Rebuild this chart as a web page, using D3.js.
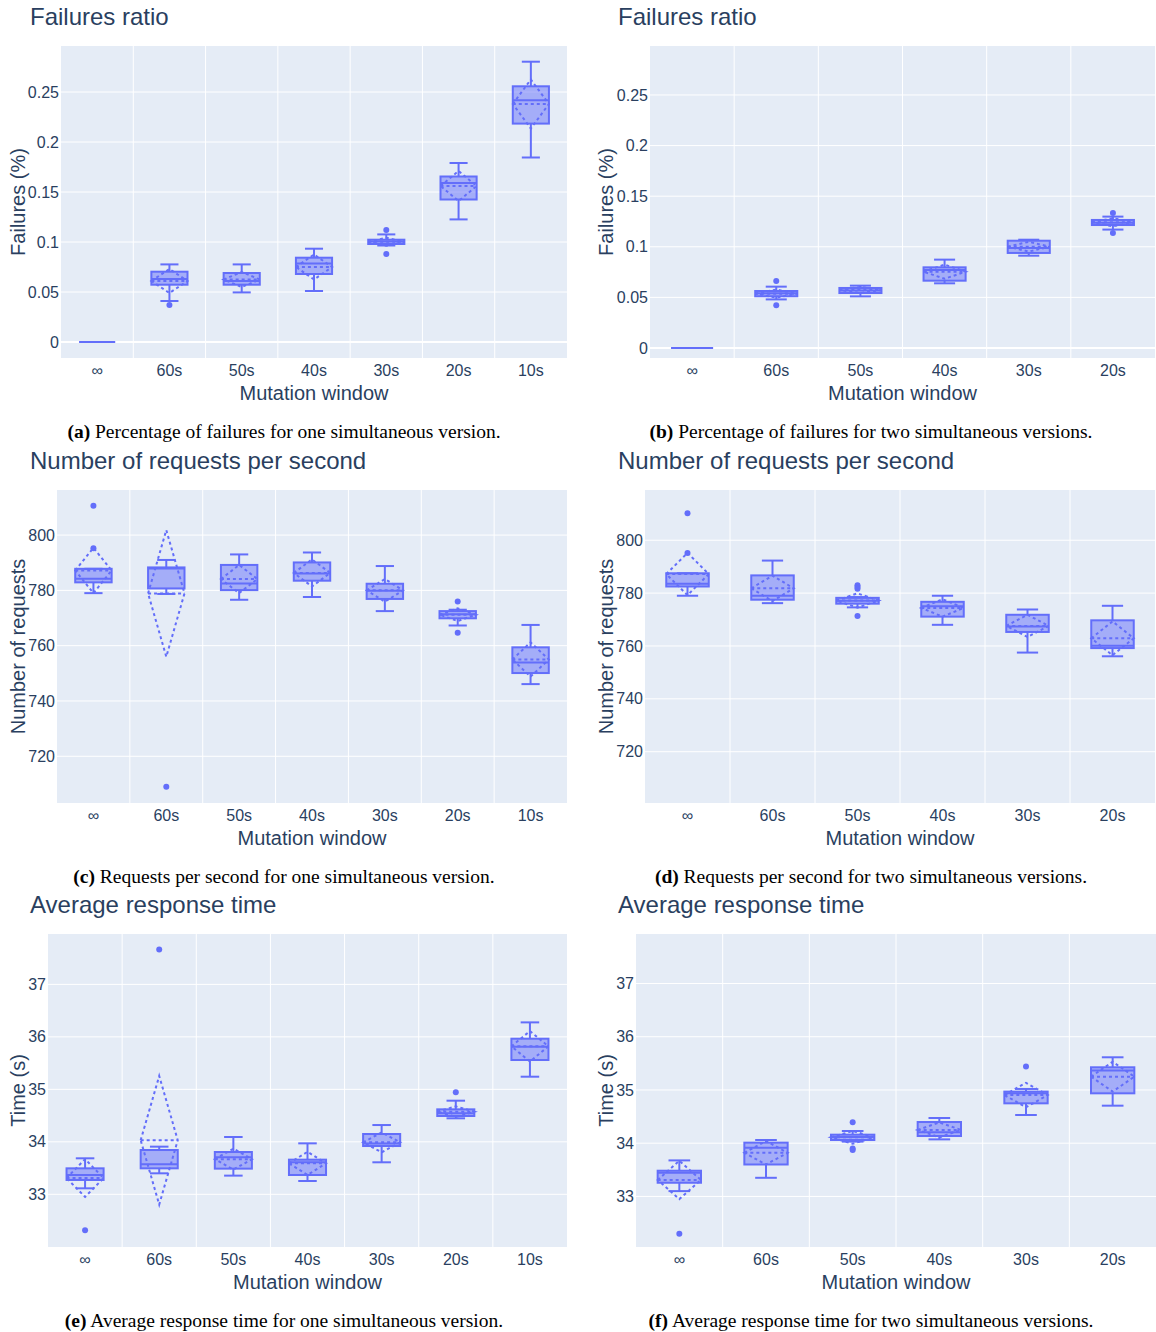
<!DOCTYPE html>
<html>
<head>
<meta charset="utf-8">
<script src="https://cdn.jsdelivr.net/npm/d3@7"></script>
<style>
body { margin: 0; background: #fff; }
</style>
</head>
<body>
<svg id="fig" width="1156" height="1332"></svg>
<script>
// Categories (mutation window)
var windowsOne = ["\u221e", "60s", "50s", "40s", "30s", "20s", "10s"];
var windowsTwo = ["\u221e", "60s", "50s", "40s", "30s", "20s"];

// Each row: [lower fence, q1, median, q3, upper fence, mean, sd]
var failuresOne = [
    [0, 0, 0, 0, 0, 0, 0],
    [0.041, 0.0573, 0.063, 0.0703, 0.0776, 0.061, 0.012],
    [0.0496, 0.0573, 0.061, 0.069, 0.0776, 0.0625, 0.0075],
    [0.051, 0.068, 0.0786, 0.0843, 0.0933, 0.075, 0.0125],
    [0.0965, 0.098, 0.1005, 0.1023, 0.1076, 0.1002, 0.004],
    [0.1226, 0.1425, 0.159, 0.1655, 0.179, 0.156, 0.015],
    [0.1845, 0.2184, 0.2418, 0.2557, 0.2803, 0.238, 0.0245]
];
var failuresOneOutliers = [[], [0.037], [], [], [0.112, 0.088], [], []];

var failuresTwo = [
    [0, 0, 0, 0, 0, 0, 0],
    [0.048, 0.0511, 0.054, 0.0563, 0.0606, 0.0537, 0.004],
    [0.051, 0.0543, 0.0567, 0.0593, 0.0616, 0.0573, 0.003],
    [0.0639, 0.0665, 0.077, 0.0797, 0.0873, 0.0754, 0.007],
    [0.0912, 0.0939, 0.0988, 0.106, 0.107, 0.1001, 0.0048],
    [0.117, 0.1215, 0.1238, 0.1265, 0.1298, 0.1242, 0.004]
];
var failuresTwoOutliers = [[], [0.0662, 0.0422], [], [], [], [0.1334, 0.1136]];

var requestsOne = [
    [779, 782.9, 784.2, 787.8, 787.8, 787.2, 8.2],
    [778.7, 780.7, 787.9, 788.3, 791, 778.9, 22.9],
    [776.6, 780.1, 782.5, 789.2, 793, 784.1, 5.1],
    [777.6, 783.5, 786.1, 790.1, 793.7, 786.3, 4.9],
    [772.5, 776.9, 779.9, 782.4, 788.8, 780.0, 4.1],
    [767.3, 769.9, 771.4, 772.5, 773.0, 771.2, 2.3],
    [746.1, 750.1, 753.9, 759.4, 767.5, 755.0, 6.2]
];
var requestsOneOutliers = [[810.6, 795.2], [709], [], [], [], [776, 764.7], []];

var requestsTwo = [
    [779, 782.5, 783.5, 787.5, 787.5, 787.2, 8],
    [776.2, 777.5, 779, 786.7, 792.3, 781.8, 4.8],
    [774.6, 776, 777.1, 778.2, 778.5, 777.2, 2.7],
    [768, 771.1, 775, 776.7, 779, 774.4, 3.3],
    [757.5, 765.3, 767.4, 771.8, 773.8, 767.6, 4.2],
    [756.1, 759.2, 760.1, 769.7, 775.2, 762.9, 6.4]
];
var requestsTwoOutliers = [[810.2, 795.2], [], [783, 782.3, 781.6, 771.3], [], [], []];

var timeOne = [
    [33.114, 33.273, 33.368, 33.495, 33.686, 33.31, 0.36],
    [33.4, 33.495, 33.571, 33.844, 33.908, 34.03, 1.225],
    [33.356, 33.489, 33.705, 33.806, 34.092, 33.67, 0.2],
    [33.254, 33.368, 33.61, 33.66, 33.971, 33.59, 0.22],
    [33.61, 33.92, 33.97, 34.149, 34.32, 33.99, 0.19],
    [34.448, 34.492, 34.543, 34.619, 34.784, 34.575, 0.1],
    [35.241, 35.559, 35.813, 35.965, 36.276, 35.82, 0.29]
];
var timeOneOutliers = [[32.314], [37.667], [], [], [], [34.943], []];

var timeTwo = [
    [33.1, 33.257, 33.445, 33.483, 33.677, 33.31, 0.36],
    [33.35, 33.6, 33.915, 34.01, 34.06, 33.82, 0.22],
    [34.03, 34.06, 34.116, 34.16, 34.229, 34.11, 0.12],
    [34.072, 34.135, 34.204, 34.398, 34.473, 34.25, 0.14],
    [34.53, 34.749, 34.937, 34.969, 35.019, 34.905, 0.23],
    [34.705, 34.937, 35.364, 35.426, 35.614, 35.25, 0.28]
];
var timeTwoOutliers = [[32.3], [], [34.392, 33.9, 33.87], [], [35.439], []];

// Tick labels
var failureTicks = [0, 0.05, 0.1, 0.15, 0.2, 0.25];
var failureTickLabels = ["0", "0.05", "0.1", "0.15", "0.2", "0.25"];
var requestTicks = [720, 740, 760, 780, 800];
var timeTicks = [33, 34, 35, 36, 37];

var BLUE = "#636efa";
var FILL = "rgba(99,110,250,0.5)";
var INK = "#2a3f5f";
var SANS = "'Liberation Sans', Arial, sans-serif";
var SERIF = "'Liberation Serif', 'Times New Roman', serif";

var panels = [
    { tag: "(a)", caption: " Percentage of failures for one simultaneous version.",
      title: "Failures ratio", ytitle: "Failures (%)", cats: windowsOne, stats: failuresOne, outliers: failuresOneOutliers,
      domain: [-0.016, 0.296], ticks: failureTicks, labels: failureTickLabels,
      x0: 61, x1: 567, y0: 46, y1: 358, col: 0 },
    { tag: "(b)", caption: " Percentage of failures for two simultaneous versions.",
      title: "Failures ratio", ytitle: "Failures (%)", cats: windowsTwo, stats: failuresTwo, outliers: failuresTwoOutliers,
      domain: [-0.0099, 0.2984], ticks: failureTicks, labels: failureTickLabels,
      x0: 650, x1: 1155, y0: 46, y1: 358, col: 1 },
    { tag: "(c)", caption: " Requests per second for one simultaneous version.",
      title: "Number of requests per second", ytitle: "Number of requests", cats: windowsOne, stats: requestsOne, outliers: requestsOneOutliers,
      domain: [703.1, 816.3], ticks: requestTicks, labels: requestTicks.map(String),
      x0: 57, x1: 567, y0: 490, y1: 803, col: 0 },
    { tag: "(d)", caption: " Requests per second for two simultaneous versions.",
      title: "Number of requests per second", ytitle: "Number of requests", cats: windowsTwo, stats: requestsTwo, outliers: requestsTwoOutliers,
      domain: [700.6, 819.0], ticks: requestTicks, labels: requestTicks.map(String),
      x0: 645, x1: 1155, y0: 490, y1: 803, col: 1 },
    { tag: "(e)", caption: " Average response time for one simultaneous version.",
      title: "Average response time", ytitle: "Time (s)", cats: windowsOne, stats: timeOne, outliers: timeOneOutliers,
      domain: [31.996, 37.96], ticks: timeTicks, labels: timeTicks.map(String),
      x0: 48, x1: 567, y0: 934, y1: 1247, col: 0 },
    { tag: "(f)", caption: " Average response time for two simultaneous versions.",
      title: "Average response time", ytitle: "Time (s)", cats: windowsTwo, stats: timeTwo, outliers: timeTwoOutliers,
      domain: [32.05, 37.93], ticks: timeTicks, labels: timeTicks.map(String),
      x0: 636, x1: 1156, y0: 934, y1: 1247, col: 1 }
];

var svg = d3.select("#fig");

panels.forEach(function (p) {
    var g = svg.append("g");
    var x = d3.scaleBand().domain(p.cats).range([p.x0, p.x1]).padding(0);
    var y = d3.scaleLinear().domain(p.domain).range([p.y1, p.y0]);
    var bw = x.bandwidth() * 0.5;

    // plot background
    g.append("rect")
        .attr("x", p.x0).attr("y", p.y0)
        .attr("width", p.x1 - p.x0).attr("height", p.y1 - p.y0)
        .attr("fill", "#e5ecf6");

    // horizontal grid
    g.selectAll("line.hgrid")
        .data(p.ticks)
        .enter().append("line")
        .attr("x1", p.x0).attr("x2", p.x1)
        .attr("y1", function (d) { return y(d); })
        .attr("y2", function (d) { return y(d); })
        .attr("stroke", "#fff")
        .attr("stroke-width", function (d) { return d === 0 ? 2 : 1; });

    // vertical grid on category boundaries
    g.selectAll("line.vgrid")
        .data(p.cats.slice(1))
        .enter().append("line")
        .attr("x1", function (d) { return x(d); })
        .attr("x2", function (d) { return x(d); })
        .attr("y1", p.y0).attr("y2", p.y1)
        .attr("stroke", "#fff")
        .attr("stroke-width", 1);

    // y axis tick labels
    var yAxis = d3.axisLeft(y)
        .tickValues(p.ticks)
        .tickFormat(function (d, i) { return p.labels[i]; })
        .tickSize(0)
        .tickPadding(2);
    var ya = g.append("g").attr("transform", "translate(" + p.x0 + ",0)").call(yAxis);
    ya.select(".domain").remove();
    ya.selectAll("text").attr("fill", INK).style("font-family", SANS).style("font-size", "16px");

    // x axis tick labels
    var xAxis = d3.axisBottom(x).tickSize(0).tickPadding(7);
    var xa = g.append("g").attr("transform", "translate(0," + p.y1 + ")").call(xAxis);
    xa.select(".domain").remove();
    xa.selectAll("text").attr("fill", INK).style("font-family", SANS).style("font-size", "16px");

    // boxes
    p.cats.forEach(function (c, i) {
        var s = p.stats[i];
        var cx = x(c) + x.bandwidth() / 2;
        var left = cx - bw / 2, right = cx + bw / 2;
        var box = g.append("g");
        var flat = s[0] === s[4];

        if (!flat) {
            // whiskers
            box.append("line").attr("x1", cx).attr("x2", cx).attr("y1", y(s[3])).attr("y2", y(s[4]))
                .attr("stroke", BLUE).attr("stroke-width", 2);
            box.append("line").attr("x1", cx).attr("x2", cx).attr("y1", y(s[1])).attr("y2", y(s[0]))
                .attr("stroke", BLUE).attr("stroke-width", 2);
            [s[0], s[4]].forEach(function (v) {
                box.append("line")
                    .attr("x1", cx - bw / 4).attr("x2", cx + bw / 4)
                    .attr("y1", y(v)).attr("y2", y(v))
                    .attr("stroke", BLUE).attr("stroke-width", 2);
            });
            // box body
            box.append("rect")
                .attr("x", left).attr("y", y(s[3]))
                .attr("width", bw).attr("height", Math.max(0, y(s[1]) - y(s[3])))
                .attr("fill", FILL)
                .attr("stroke", BLUE).attr("stroke-width", 2);
        }
        // median
        box.append("line")
            .attr("x1", left).attr("x2", right)
            .attr("y1", y(s[2])).attr("y2", y(s[2]))
            .attr("stroke", BLUE).attr("stroke-width", 2);

        if (!flat) {
            // mean line and sd diamond
            box.append("line")
                .attr("x1", left).attr("x2", right)
                .attr("y1", y(s[5])).attr("y2", y(s[5]))
                .attr("stroke", BLUE).attr("stroke-width", 2)
                .attr("stroke-dasharray", "3,3");
            var pts = [[left, y(s[5])], [cx, y(s[5] + s[6])], [right, y(s[5])], [cx, y(s[5] - s[6])]];
            box.append("path")
                .attr("d", d3.line()(pts) + "Z")
                .attr("fill", "none")
                .attr("stroke", BLUE).attr("stroke-width", 2)
                .attr("stroke-dasharray", "3,3");
        }

        // outliers
        box.selectAll("circle")
            .data(p.outliers[i])
            .enter().append("circle")
            .attr("cx", cx)
            .attr("cy", function (d) { return y(d); })
            .attr("r", 3)
            .attr("fill", BLUE);
    });

    // panel title
    var tx = p.col === 0 ? 30 : 618;
    g.append("text")
        .attr("x", tx).attr("y", p.y0 - 21)
        .attr("fill", INK)
        .style("font-family", SANS).style("font-size", "24px")
        .text(p.title);

    // y axis title
    var ytx = p.col === 0 ? 18 : 606;
    g.append("text")
        .attr("transform", "translate(" + ytx + "," + ((p.y0 + p.y1) / 2) + ") rotate(-90)")
        .attr("text-anchor", "middle")
        .attr("dy", "0.35em")
        .attr("fill", INK)
        .style("font-family", SANS).style("font-size", "20px")
        .text(p.ytitle);

    // x axis title
    g.append("text")
        .attr("x", (p.x0 + p.x1) / 2).attr("y", p.y1 + 42)
        .attr("text-anchor", "middle")
        .attr("fill", INK)
        .style("font-family", SANS).style("font-size", "20px")
        .text("Mutation window");

    // caption
    var cap = g.append("text")
        .attr("x", p.col === 0 ? 284 : 871).attr("y", p.y1 + 80)
        .attr("text-anchor", "middle")
        .attr("fill", "#000")
        .style("font-family", SERIF).style("font-size", "19.5px");
    cap.append("tspan").style("font-weight", "bold").text(p.tag);
    cap.append("tspan").text(p.caption);
});
</script>
</body>
</html>
